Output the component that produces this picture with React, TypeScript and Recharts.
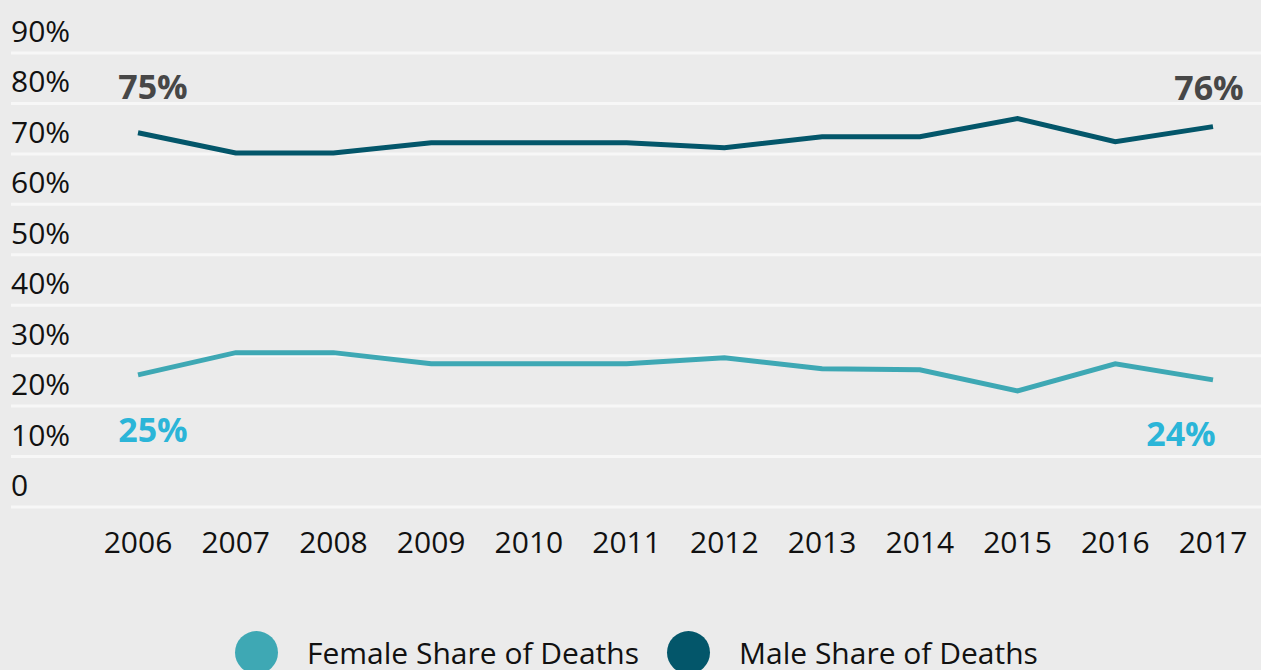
import { LineChart, Line, XAxis, YAxis, CartesianGrid, Legend, LabelList } from "recharts";

const years = ["2006", "2007", "2008", "2009", "2010", "2011", "2012", "2013", "2014", "2015", "2016", "2017"];
const femaleShare = [26.2, 30.6, 30.6, 28.4, 28.4, 28.4, 29.6, 27.4, 27.2, 23.0, 28.4, 25.2];
const maleShare = [74.2, 70.2, 70.2, 72.2, 72.2, 72.2, 71.2, 73.4, 73.4, 77.0, 72.4, 75.4];
const yTicks = [0, 10, 20, 30, 40, 50, 60, 70, 80, 90];
const femaleEndLabels = ["25%", "24%"];
const maleEndLabels = ["75%", "76%"];

const FEMALE = "#3ea8b4";
const MALE = "#03566a";
const FONT = "'Open Sans', sans-serif";

const data = years.map((year, i) => ({ year, female: femaleShare[i], male: maleShare[i] }));

const renderYTick = (props: any) => {
    const { y, payload } = props;
    return (
        <text x={11} y={y - 11} textAnchor="start" fontSize={30} fontFamily={FONT} fill="#111">
            {payload.value === 0 ? "0" : `${payload.value}%`}
        </text>
    );
};

// first/last point annotations
function endLabel(texts: string[], color: string, male: boolean) {
    return (props: any) => {
        const { x, y, index } = props;
        const last = years.length - 1;
        if (index !== 0 && index !== last) return null;
        const txt = index === 0 ? texts[0] : texts[1];
        let lx = x + 15;
        let ly = male ? y - 34 : y + 67;
        if (index === last) {
            lx = male ? x - 4 : x - 32;
            ly = male ? y - 27 : y + 66;
        }
        return (
            <text x={lx} y={ly} textAnchor="middle" fontSize={34} fontWeight={700} fontFamily={FONT} fill={color}>
                {txt}
            </text>
        );
    };
}

function LegendContent() {
    const items = [
        { name: "Female Share of Deaths", color: FEMALE },
        { name: "Male Share of Deaths", color: MALE },
    ];
    return (
        <div style={{ display: "flex", alignItems: "center", paddingLeft: 235, fontFamily: FONT, fontSize: 30, color: "#111" }}>
            {items.map((it, i) => (
                <div key={it.name} style={{ display: "flex", alignItems: "center", marginRight: i === 0 ? 28 : 0 }}>
                    <span style={{ width: 43, height: 43, borderRadius: "50%", background: it.color, display: "inline-block" }} />
                    <span style={{ marginLeft: 29, whiteSpace: "nowrap" }}>{it.name}</span>
                </div>
            ))}
        </div>
    );
}

export default function App() {
    return (
        <div style={{ position: "fixed", left: 0, top: 0, width: 1261, height: 670, background: "#ebebeb", overflow: "hidden" }}>
            <LineChart width={1261} height={670} data={data} margin={{ top: 53, right: 0, left: 10, bottom: 103 }}>
                <CartesianGrid vertical={false} stroke="#f7f7f7" strokeWidth={3} />
                <XAxis
                    dataKey="year"
                    height={60}
                    axisLine={false}
                    tickLine={false}
                    tickSize={0}
                    tickMargin={25}
                    interval={0}
                    padding={{ left: 127, right: 48 }}
                    tick={{ fontSize: 30, fontFamily: FONT, fill: "#111" }}
                />
                <YAxis width={1} domain={[0, 90]} ticks={yTicks} interval={0} axisLine={false} tickLine={false} tick={renderYTick} />
                <Legend
                    layout="horizontal"
                    verticalAlign="middle"
                    align="center"
                    content={<LegendContent />}
                    wrapperStyle={{ top: 631, left: 0, width: 1261, height: 43 }}
                />
                <Line type="linear" dataKey="female" name="Female Share of Deaths" stroke={FEMALE} strokeWidth={5} dot={false} isAnimationActive={false}>
                    <LabelList dataKey="female" content={endLabel(femaleEndLabels, "#2bb5d8", false)} />
                </Line>
                <Line type="linear" dataKey="male" name="Male Share of Deaths" stroke={MALE} strokeWidth={5} dot={false} isAnimationActive={false}>
                    <LabelList dataKey="male" content={endLabel(maleEndLabels, "#474747", true)} />
                </Line>
            </LineChart>
        </div>
    );
}
